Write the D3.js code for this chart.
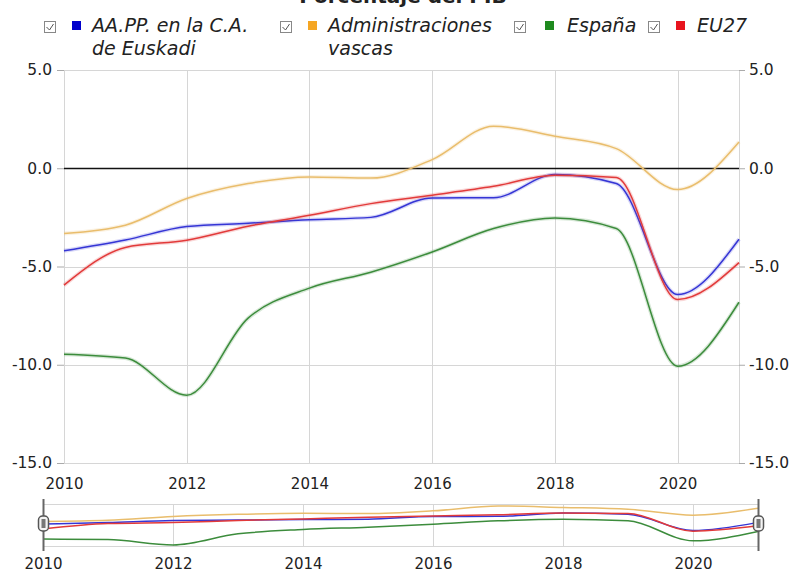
<!doctype html>
<html>
  <head>
    <script src="https://cdnjs.cloudflare.com/ajax/libs/d3/7.8.5/d3.min.js"></script>
    <style>
      body { margin: 0; background: #fff; }
      text { font-family: "DejaVu Sans", Verdana, sans-serif; fill: #222; }
    </style>
  </head>
  <body>
    <svg width="791" height="574"></svg>

    <script>
        var years = [2010, 2011, 2012, 2013, 2014, 2015, 2016, 2017, 2018, 2019, 2020, 2021];
        var aapp = [-4.2, -3.65, -2.97, -2.8, -2.62, -2.5, -1.51, -1.5, -0.32, -0.78, -6.43, -3.61];
        var admin = [-3.32, -2.9, -1.54, -0.78, -0.44, -0.5, 0.44, 2.14, 1.63, 1.0, -1.08, 1.34];
        var espana = [-9.46, -9.66, -11.55, -7.63, -6.1, -5.29, -4.26, -3.07, -2.53, -3.07, -10.07, -6.82];
        var eu27 = [-5.95, -4.03, -3.66, -2.95, -2.39, -1.8, -1.37, -0.92, -0.36, -0.47, -6.68, -4.8];
        var yTicks = [5, 0, -5, -10, -15];
        var xTicks = [2010, 2012, 2014, 2016, 2018, 2020];

        var series = [
            {name: ["AA.PP. en la C.A.", "de Euskadi"], values: aapp, color: "#3535d5", key: "#0000cc"},
            {name: ["Administraciones", "vascas"], values: admin, color: "#e9bd6c", key: "#f5a623"},
            {name: ["España"], values: espana, color: "#3c8c3c", key: "#1f8a1f"},
            {name: ["EU27"], values: eu27, color: "#e23a3a", key: "#e8141e"}
        ];
        var legendX = [44, 280, 514, 648];

        // hyphen minus like the original, not the unicode minus
        var fmt = d => d3.format(".1f")(d).replace("\u2212", "-");

        var svg = d3.select("svg");

        // title (mostly cut off at the top)
        svg.append("text").attr("x", 403).attr("y", 3)
            .attr("text-anchor", "middle")
            .style("font-weight", "bold").style("font-size", "20px")
            .text("Porcentaje del PIB");

        // legend
        series.forEach(function(s, i){
            var g = svg.append("g").attr("transform", "translate(" + legendX[i] + ",0)");
            g.append("rect").attr("x", 0.5).attr("y", 21.5).attr("width", 11).attr("height", 11)
                .attr("fill", "#fff").attr("stroke", "#888");
            g.append("path").attr("d", "M2.5,27 L5.5,30 L9.5,24")
                .attr("fill", "none").attr("stroke", "#555").attr("stroke-width", 1);
            g.append("rect").attr("x", i == 2 ? 31 : 28).attr("y", 21)
                .attr("width", 9).attr("height", 9).attr("fill", s.key);
            s.name.forEach(function(line, j){
                g.append("text").attr("x", i == 2 ? 53 : (i == 3 ? 49 : 48)).attr("y", 32 + j * 23)
                    .style("font-style", "italic").style("font-size", "19px")
                    .text(line);
            });
        });

        // main chart
        var x = d3.scaleLinear().domain([2010, 2021]).range([64, 739]);
        var y = d3.scaleLinear().domain([-15, 5]).range([463, 70]);

        var grid = svg.append("g").attr("stroke", "#d6d6d6").attr("stroke-width", 1);
        grid.selectAll(".h").data(yTicks).enter().append("line")
            .attr("x1", 64).attr("x2", 739)
            .attr("y1", d => Math.round(y(d)) + 0.5).attr("y2", d => Math.round(y(d)) + 0.5);
        grid.selectAll(".v").data(xTicks.concat([2021])).enter().append("line")
            .attr("x1", d => Math.round(x(d)) + 0.5).attr("x2", d => Math.round(x(d)) + 0.5)
            .attr("y1", 70).attr("y2", 463);

        var yLeft = d3.axisLeft(y).tickValues(yTicks).tickFormat(fmt).tickSize(7).tickPadding(5);
        var yRight = d3.axisRight(y).tickValues(yTicks).tickFormat(fmt).tickSize(6).tickPadding(4);
        var gl = svg.append("g").attr("transform", "translate(64,0)").call(yLeft);
        var gr = svg.append("g").attr("transform", "translate(739,0)").call(yRight);
        [gl, gr].forEach(function(g){
            g.select(".domain").remove();
            g.selectAll("line").attr("stroke", "#aaa");
            g.selectAll("text").style("font-size", "15.5px").attr("fill", "#222")
                .style("font-family", "DejaVu Sans, Verdana, sans-serif");
        });

        var xAxis = d3.axisBottom(x).tickValues(xTicks).tickFormat(d3.format("d")).tickSize(0).tickPadding(15);
        var gx = svg.append("g").attr("transform", "translate(0,463)").call(xAxis);
        gx.select(".domain").remove();
        gx.selectAll("text").style("font-size", "15px").attr("fill", "#222")
            .style("font-family", "DejaVu Sans, Verdana, sans-serif");

        // zero line
        svg.append("line").attr("x1", 64).attr("x2", 739)
            .attr("y1", Math.round(y(0)) + 0.5).attr("y2", Math.round(y(0)) + 0.5)
            .attr("stroke", "#111").attr("stroke-width", 1.5);

        var line = d3.line().curve(d3.curveMonotoneX)
            .x((d, i) => x(years[i])).y(d => y(d));

        series.forEach(function(s){
            svg.append("path").attr("d", line(s.values)).attr("fill", "none")
                .attr("stroke", s.color).attr("stroke-opacity", 0.2).attr("stroke-width", 4);
            svg.append("path").attr("d", line(s.values)).attr("fill", "none")
                .attr("stroke", s.color).attr("stroke-width", 1.5);
        });

        // navigator
        var nx = d3.scaleLinear().domain([2010, 2021]).range([43, 758]);
        var allVals = aapp.concat(admin, espana, eu27);
        var ny = d3.scaleLinear().domain(d3.extent(allVals)).range([545, 506]);

        var ngrid = svg.append("g").attr("stroke", "#d6d6d6").attr("stroke-width", 1);
        ngrid.selectAll("line.h").data([504.5, 546.5]).enter().append("line")
            .attr("x1", 43).attr("x2", 758).attr("y1", d => d).attr("y2", d => d);
        ngrid.selectAll("line.v").data(xTicks.slice(1)).enter().append("line")
            .attr("x1", d => Math.round(nx(d)) + 0.5).attr("x2", d => Math.round(nx(d)) + 0.5)
            .attr("y1", 504).attr("y2", 547);

        var nline = d3.line().curve(d3.curveMonotoneX)
            .x((d, i) => nx(years[i])).y(d => ny(d));
        series.forEach(function(s){
            svg.append("path").attr("d", nline(s.values)).attr("fill", "none")
                .attr("stroke", s.color).attr("stroke-width", 1.5);
        });

        var nxAxis = d3.axisBottom(nx).tickValues(xTicks).tickFormat(d3.format("d")).tickSize(0).tickPadding(11);
        var gnx = svg.append("g").attr("transform", "translate(0,547)").call(nxAxis);
        gnx.select(".domain").remove();
        gnx.selectAll("text").style("font-size", "15px").attr("fill", "#222")
            .style("font-family", "DejaVu Sans, Verdana, sans-serif");

        // handles
        [2010, 2021].forEach(function(d){
            var hx = Math.round(nx(d)) + 0.5;
            svg.append("line").attr("x1", hx).attr("x2", hx).attr("y1", 499).attr("y2", 551)
                .attr("stroke", "#666").attr("stroke-width", 2);
            svg.append("rect").attr("x", hx - 5).attr("y", 516).attr("width", 10).attr("height", 15)
                .attr("rx", 4).attr("fill", "#f4f4f4").attr("stroke", "#555").attr("stroke-width", 1.5);
            svg.append("rect").attr("x", hx - 2).attr("y", 519).attr("width", 4).attr("height", 9)
                .attr("fill", "#777");
        });
    </script>
  </body>
</html>
